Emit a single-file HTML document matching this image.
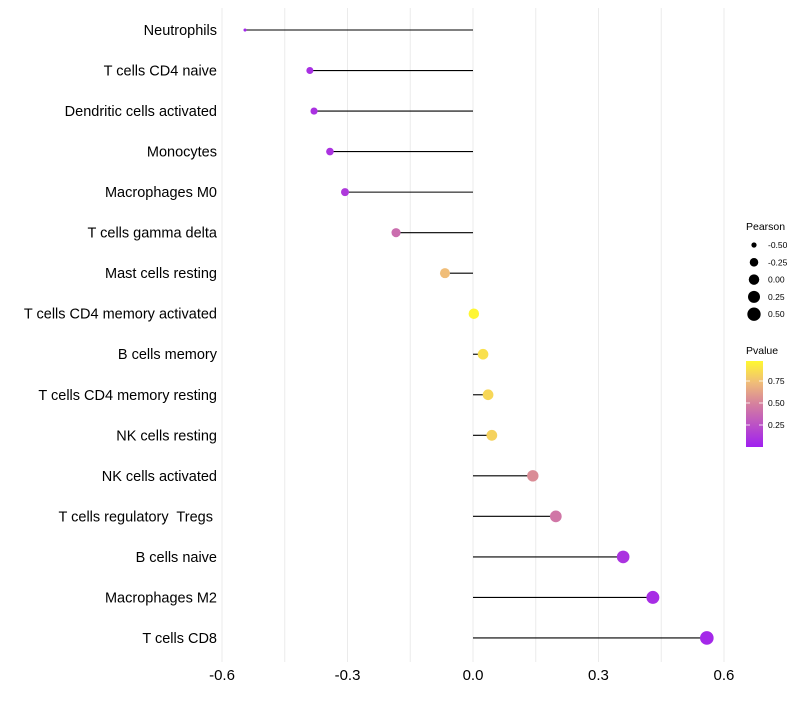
<!DOCTYPE html>
<html><head><meta charset="utf-8"><style>
body{margin:0;background:#fff;font-family:"Liberation Sans",sans-serif;}
svg text{font-family:"Liberation Sans",sans-serif;white-space:pre;}
</style></head><body>
<svg id="chart" width="800" height="700">
<defs><linearGradient id="pg" x1="0" y1="1" x2="0" y2="0">
<stop offset="0" stop-color="#a020f0"/><stop offset="0.5" stop-color="#d5809e"/><stop offset="0.75" stop-color="#f0bd78"/><stop offset="1" stop-color="#fff830"/></linearGradient></defs>
<g id="grid"></g><g id="marks"></g><g id="labels"></g>
<g id="legend"></g>
</svg>
<script>
const categories=["Neutrophils","T cells CD4 naive","Dendritic cells activated","Monocytes","Macrophages M0","T cells gamma delta","Mast cells resting","T cells CD4 memory activated","B cells memory","T cells CD4 memory resting","NK cells resting","NK cells activated","T cells regulatory  Tregs ","B cells naive","Macrophages M2","T cells CD8"];
const pearson=[-0.545,-0.39,-0.38,-0.342,-0.306,-0.184,-0.067,0.002,0.024,0.036,0.045,0.143,0.198,0.359,0.43,0.559];
const pvalue=[0.03,0.08,0.09,0.1,0.13,0.4,0.75,0.99,0.9,0.86,0.84,0.55,0.45,0.1,0.07,0.04];
const xTicks=[-0.6,-0.3,0,0.3,0.6];
const xTickLabels=["-0.6","-0.3","0.0","0.3","0.6"];
const sizeLegendVals=[-0.5,-0.25,0,0.25,0.5];
const sizeLegendLabels=["-0.50","-0.25","0.00","0.25","0.50"];
const pLegendVals=[0.25,0.5,0.75];
const NS="http://www.w3.org/2000/svg";
const X=v=>473+v*418.3;
const Y=i=>30+i*40.53;
const pmin=Math.min(...pearson),pmax=Math.max(...pearson);
const R=v=>{const t=Math.max(0,Math.min(1,(v-pmin)/(pmax-pmin)));return 0.5+1.05*(1+5*Math.sqrt(t));};
function lerp(a,b,t){return a.map((x,i)=>Math.round(x+(b[i]-x)*t));}
function col(p){const s=[[0,[160,32,240]],[0.5,[213,128,158]],[0.75,[240,189,120]],[1,[255,248,48]]];
for(let i=0;i<s.length-1;i++){if(p<=s[i+1][0]){const c=lerp(s[i][1],s[i+1][1],(p-s[i][0])/(s[i+1][0]-s[i][0]));return `rgb(${c})`;}}return "rgb(255,248,48)";}
function mk(tag,attrs,parent,txt){const e=document.createElementNS(NS,tag);for(const k in attrs)e.setAttribute(k,attrs[k]);if(txt!==undefined)e.textContent=txt;parent.appendChild(e);return e;}
const grid=document.getElementById('grid'),marks=document.getElementById('marks'),labels=document.getElementById('labels'),leg=document.getElementById('legend');
for(let v=-0.6;v<=0.601;v+=0.15){const g=mk('line',{x1:X(v),x2:X(v),y1:8,y2:662,stroke:'#ebebeb','stroke-width':1},grid);

}
xTicks.forEach((t,i)=>{const e=mk('text',{x:X(t),y:680,'text-anchor':'middle','font-size':15,fill:'#000'},labels,xTickLabels[i]);

});
categories.forEach((c,i)=>{
const l=mk('text',{x:217,y:Y(i)+5,'text-anchor':'end','font-size':14.5,fill:'#000'},labels,c);


const s=mk('line',{x1:X(0),x2:X(pearson[i]),y1:Y(i),y2:Y(i),stroke:'#000','stroke-width':1.1},marks);


const p=mk('circle',{cx:X(pearson[i]),cy:Y(i),r:R(pearson[i]),fill:col(pvalue[i])},marks);


});
const t1=mk('text',{x:746,y:230,'font-size':10.5},leg,"Pearson");


sizeLegendVals.forEach((v,i)=>{const y=245+i*17.3;
const c=mk('circle',{cx:754,cy:y,r:R(v),fill:'#000'},leg);


const t=mk('text',{x:768,y:y+3,'font-size':8.5},leg,sizeLegendLabels[i]);

});
const t2=mk('text',{x:746,y:354,'font-size':10.5},leg,"Pvalue");


const bar=mk('rect',{x:746,y:361,width:17,height:86,fill:'url(#pg)'},leg);


pLegendVals.forEach(v=>{const y=447-v*88;
mk('line',{x1:746,x2:750,y1:y,y2:y,stroke:'#fff','stroke-width':0.8},leg);
mk('line',{x1:759,x2:763,y1:y,y2:y,stroke:'#fff','stroke-width':0.8},leg);
const t=mk('text',{x:768,y:y+3,'font-size':8.5},leg,v.toFixed(2));

});
</script>
</body></html>
